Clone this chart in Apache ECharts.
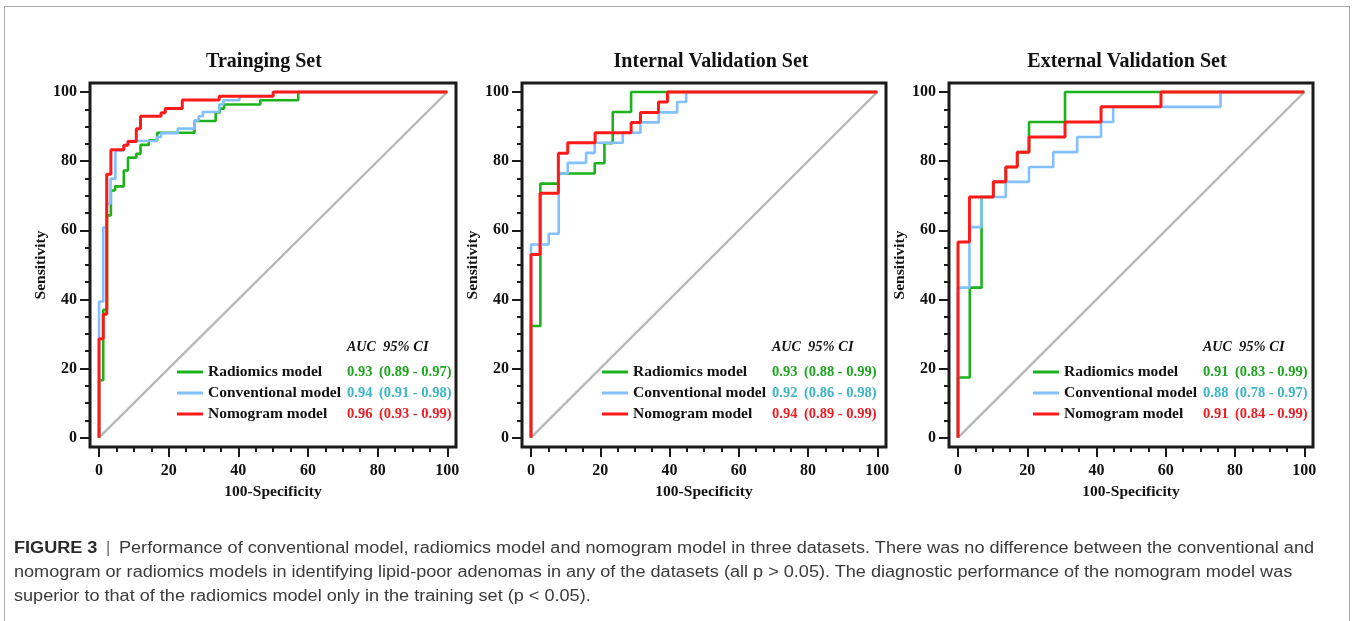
<!DOCTYPE html>
<html>
<head>
<meta charset="utf-8">
<title>ROC curves</title>
<script src="https://cdn.jsdelivr.net/npm/echarts@6/dist/echarts.min.js"></script>
<style>
html, body { margin: 0; padding: 0; background: #fff; }
#wrap { position: relative; width: 1352px; height: 621px; overflow: hidden; }
#frame { position: absolute; left: 4px; top: 6px; width: 1346px; height: 700px; border: 1px solid #a8a8a8; box-sizing: border-box; }
#chart { position: absolute; left: 0; top: 0; width: 1352px; height: 621px; }
#caption { position: absolute; left: 14px; top: 536px; font-family: 'Liberation Sans', Arial, sans-serif; font-size: 16px; line-height: 24px; color: #3a3a3a; white-space: nowrap; transform-origin: 0 0; }
#caption b { color: #2a2a2a; }
#caption .bar { color: #777; padding: 0 3px; }
</style>
</head>
<body>
<div id="wrap">
  <div id="frame"></div>
  <div id="chart"></div>
  <div id="caption">
    <div><span id="line1"><b>FIGURE 3</b> <span class="bar">|</span> Performance of conventional model, radiomics model and nomogram model in three datasets. There was no difference between the conventional and</span></div>
    <div>nomogram or radiomics models in identifying lipid-poor adenomas in any of the datasets (all p &gt; 0.05). The diagnostic performance of the nomogram model was</div>
    <div>superior to that of the radiomics model only in the training set (p &lt; 0.05).</div>
  </div>
</div>
<script>
  // --- data (100-Specificity / Sensitivity, step corners) ---
  const models = ['Radiomics model', 'Conventional model', 'Nomogram model'];
  const panelTitles = ['Trainging Set', 'Internal Validation Set', 'External Validation Set'];
  const majorTicks = [0, 20, 40, 60, 80, 100];
  const minorTicks = [0, 5, 10, 15, 20, 25, 30, 35, 40, 45, 50, 55, 60, 65, 70, 75, 80, 85, 90, 95, 100];

  // training set
  const trainRadX = [0, 0, 1.2, 2.3, 3.4, 4.6, 7.1, 8.3, 10.7, 11.9, 14.3, 16.7, 27.4, 33.5, 34.7, 35.9, 46.3, 57.2, 100];
  const trainRadY = [0, 16.6, 37.0, 64.3, 71.5, 72.7, 77.3, 81.0, 82.1, 84.7, 86.0, 88.2, 91.6, 94.1, 95.2, 96.4, 97.6, 100, 100];
  const trainConX = [0, 0, 1.2, 2.2, 3.3, 4.7, 7.1, 8.3, 16.6, 17.8, 22.6, 27.4, 28.6, 29.8, 34.5, 35.7, 40.3, 50, 100];
  const trainConY = [0, 39.4, 60.8, 67.7, 74.9, 83.1, 84.6, 85.8, 87.0, 88.1, 89.4, 91.8, 93.0, 94.2, 96.4, 97.6, 98.8, 100, 100];
  const trainNomX = [0, 0, 1.2, 2.2, 3.4, 7.1, 8.3, 10.7, 11.9, 17.8, 19.0, 23.9, 34.5, 50.0, 100];
  const trainNomY = [0, 28.6, 35.7, 76.2, 83.3, 84.6, 85.7, 89.4, 93.0, 94.0, 95.2, 97.7, 98.8, 100, 100];
  const trainAuc = ['0.93', '0.94', '0.96'];
  const trainCi = ['(0.89 - 0.97)', '(0.91 - 0.98)', '(0.93 - 0.99)'];

  // internal validation set
  const intRadX = [0, 0, 2.7, 8.0, 18.4, 21.2, 23.6, 28.9, 100];
  const intRadY = [0, 32.3, 73.5, 76.4, 79.4, 85.2, 94.2, 100, 100];
  const intConX = [0, 0, 5.1, 8.0, 10.6, 15.9, 18.4, 26.5, 31.6, 36.9, 42.2, 44.8, 100];
  const intConY = [0, 55.9, 59.0, 76.4, 79.5, 82.4, 85.3, 88.2, 91.2, 94.1, 97.1, 100, 100];
  const intNomX = [0, 0, 2.6, 7.9, 10.6, 18.5, 28.9, 31.6, 36.8, 39.4, 100];
  const intNomY = [0, 53.0, 70.7, 82.3, 85.3, 88.2, 91.2, 94.1, 97.1, 100, 100];
  const intAuc = ['0.93', '0.92', '0.94'];
  const intCi = ['(0.88 - 0.99)', '(0.86 - 0.98)', '(0.89 - 0.99)'];

  // external validation set
  const extRadX = [0, 0, 3.4, 6.8, 10.2, 13.8, 17.1, 20.5, 30.9, 100];
  const extRadY = [0, 17.4, 43.4, 69.6, 74.0, 78.3, 82.6, 91.3, 100, 100];
  const extConX = [0, 0, 3.3, 6.8, 13.8, 20.5, 27.5, 34.4, 41.3, 44.8, 75.8, 100];
  const extConY = [0, 43.4, 60.9, 69.6, 74.0, 78.3, 82.6, 87.0, 91.3, 95.7, 100, 100];
  const extNomX = [0, 0, 3.3, 10.2, 13.8, 17.1, 20.5, 30.9, 41.3, 58.6, 100];
  const extNomY = [0, 56.6, 69.6, 74.0, 78.3, 82.6, 87.0, 91.3, 95.7, 100, 100];
  const extAuc = ['0.91', '0.88', '0.91'];
  const extCi = ['(0.83 - 0.99)', '(0.78 - 0.97)', '(0.84 - 0.99)'];

  const diagX = [0, 100];
  const diagY = [0, 100];

  // --- styling / layout ---
  const serif = "'Liberation Serif', 'Times New Roman', serif";
  const lineColors = ['#1bb21b', '#82c0ff', '#ff1a1a'];
  const textColors = ['#1fa61f', '#3cb5c6', '#f01c24'];
  const grids = [
    { left: 90, top: 83, width: 366, height: 364 },
    { left: 522, top: 83, width: 364, height: 364 },
    { left: 949, top: 83, width: 364, height: 364 }
  ];
  const titleX = [264, 711, 1127];
  const legendLeft = [177, 602, 1033];
  const nameW = 139;

  const panels = [
    { curves: [[trainRadX, trainRadY], [trainConX, trainConY], [trainNomX, trainNomY]], auc: trainAuc, ci: trainCi },
    { curves: [[intRadX, intRadY], [intConX, intConY], [intNomX, intNomY]], auc: intAuc, ci: intCi },
    { curves: [[extRadX, extRadY], [extConX, extConY], [extNomX, extNomY]], auc: extAuc, ci: extCi }
  ];

  function zip(xs, ys) {
    return xs.map((x, k) => [x, ys[k]]);
  }

  const labelFont = { fontFamily: serif, fontWeight: 'bold', fontSize: 16, color: '#111' };
  const nameFont = { fontFamily: serif, fontWeight: 'bold', fontSize: 15.5, color: '#111' };
  const tickLine = { color: '#1a1a1a', width: 2 };
  const noLine = { show: false, onZero: false };

  let xAxis = [], yAxis = [], series = [], legend = [], graphic = [];

  panels.forEach((p, i) => {
    xAxis.push({
      type: 'value', gridIndex: i, min: -2.6, max: 102.5, position: 'bottom',
      name: '100-Specificity', nameLocation: 'middle', nameGap: 37,
      nameTextStyle: nameFont,
      axisLine: noLine, splitLine: { show: false },
      axisTick: { length: 10, lineStyle: tickLine, customValues: majorTicks },
      axisLabel: Object.assign({ margin: 16, customValues: majorTicks }, labelFont)
    }, {
      type: 'value', gridIndex: i, min: -2.6, max: 102.5, position: 'bottom',
      axisLine: noLine, splitLine: { show: false }, axisLabel: { show: false },
      axisTick: { length: 5, lineStyle: tickLine, customValues: minorTicks }
    });
    yAxis.push({
      type: 'value', gridIndex: i, min: -2.7, max: 102.6, position: 'left',
      name: 'Sensitivity', nameLocation: 'middle', nameGap: 38,
      nameTextStyle: nameFont,
      axisLine: noLine, splitLine: { show: false },
      axisTick: { length: 10, lineStyle: tickLine, customValues: majorTicks },
      axisLabel: Object.assign({ margin: 13, customValues: majorTicks }, labelFont)
    }, {
      type: 'value', gridIndex: i, min: -2.7, max: 102.6, position: 'left',
      axisLine: noLine, splitLine: { show: false }, axisLabel: { show: false },
      axisTick: { length: 5, lineStyle: tickLine, customValues: minorTicks }
    });

    series.push({
      type: 'line', xAxisIndex: 2 * i, yAxisIndex: 2 * i, silent: true,
      showSymbol: false, color: '#b8b8b8', lineStyle: { width: 2.4 },
      data: zip(diagX, diagY)
    });
    p.curves.forEach((c, m) => {
      series.push({
        name: models[m], type: 'line', step: 'end',
        xAxisIndex: 2 * i, yAxisIndex: 2 * i,
        showSymbol: false, color: lineColors[m],
        lineStyle: { width: m === 2 ? 3 : 2.6 },
        data: zip(c[0], c[1])
      });
    });

    let rich = {
      n: { width: nameW, fontFamily: serif, fontWeight: 'bold', fontSize: 15.5, color: '#111' }
    };
    textColors.forEach((col, m) => {
      rich['a' + m] = { width: 32, fontFamily: serif, fontWeight: 'bold', fontSize: 14.5, color: col };
      rich['c' + m] = { fontFamily: serif, fontWeight: 'bold', fontSize: 14.5, color: col };
    });
    legend.push({
      data: models, orient: 'vertical', left: legendLeft[i], top: 364,
      padding: 0, itemGap: 5, itemWidth: 26, itemHeight: 3, icon: 'rect',
      selectedMode: false,
      textStyle: { fontFamily: serif, fontWeight: 'bold', fontSize: 15.5, color: '#111', rich: rich },
      formatter: name => {
        const m = models.indexOf(name);
        return '{n|' + name + '}{a' + m + '|' + p.auc[m] + '}{c' + m + '|' + p.ci[m] + '}';
      }
    });

    graphic.push({
      type: 'text',
      style: { text: panelTitles[i], x: titleX[i], y: 62, align: 'center', verticalAlign: 'middle',
        font: 'bold 20px ' + serif, fill: '#111' }
    });
    const hx = legendLeft[i] + 26 + 5 + nameW;
    graphic.push({
      type: 'text',
      style: { text: 'AUC', x: hx, y: 347, verticalAlign: 'middle',
        font: 'italic bold 14px ' + serif, fill: '#111' }
    }, {
      type: 'text',
      style: { text: '95% CI', x: hx + 36, y: 347, verticalAlign: 'middle',
        font: 'italic bold 14.5px ' + serif, fill: '#111' }
    });
  });

  let chart = echarts.init(document.getElementById('chart'));
  chart.setOption({
    animation: false,
    grid: grids.map(g => Object.assign({ show: true, borderColor: '#1a1a1a', borderWidth: 3, containLabel: false }, g)),
    xAxis: xAxis,
    yAxis: yAxis,
    legend: legend,
    series: series,
    graphic: graphic
  });

  // squeeze caption to the width it has in the figure
  const w = document.getElementById('line1').getBoundingClientRect().width;
  document.getElementById('caption').style.transform = 'scaleX(' + (1300 / w) + ')';
</script>
</body>
</html>
